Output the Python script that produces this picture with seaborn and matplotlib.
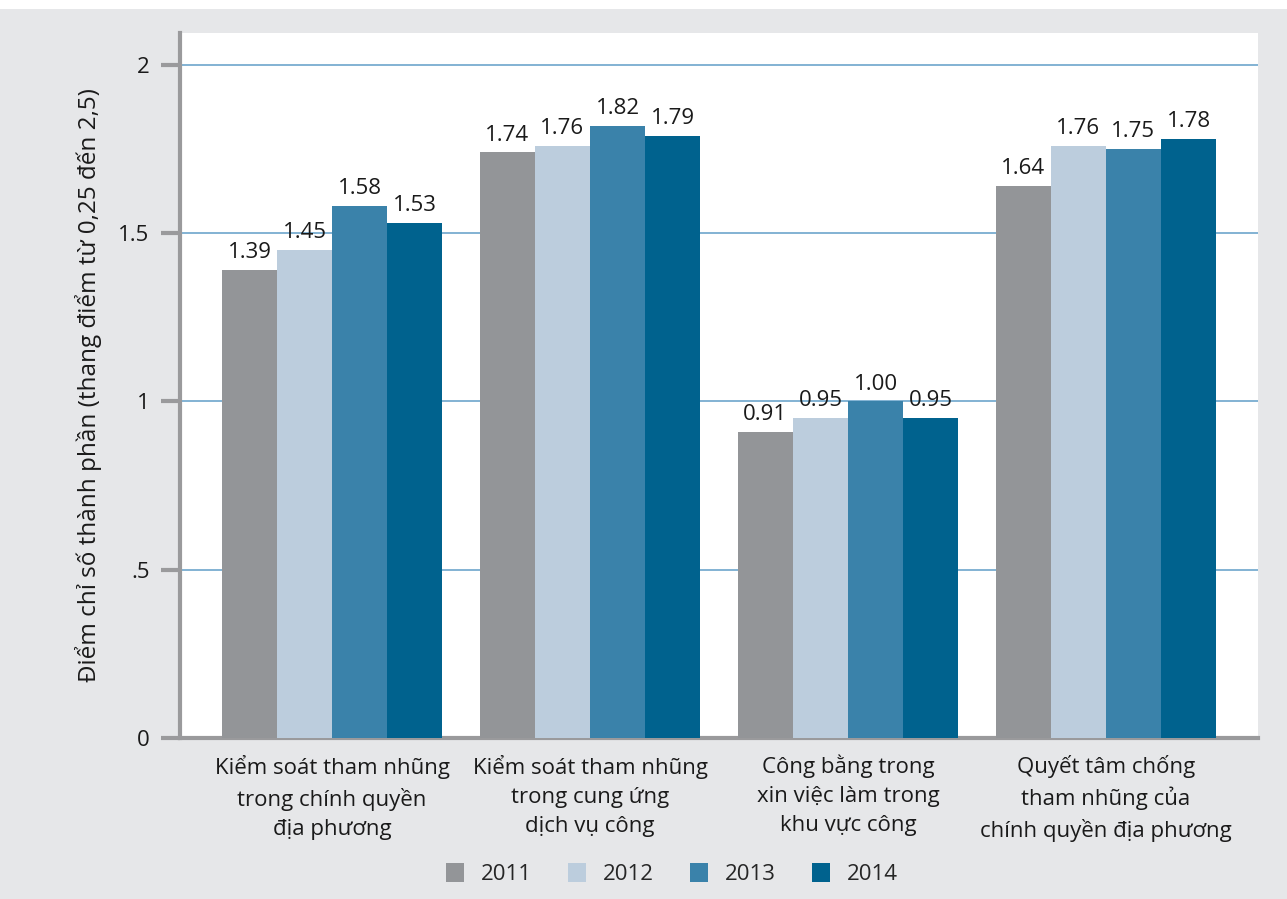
import matplotlib
matplotlib.use("Agg")
import matplotlib.pyplot as plt
import seaborn as sns
import pandas as pd
from matplotlib.patches import Patch

categories = [
    "Kiểm soát tham nhũng\ntrong chính quyền\nđịa phương",
    "Kiểm soát tham nhũng\ntrong cung ứng\ndịch vụ công",
    "Công bằng trong\nxin việc làm trong\nkhu vực công",
    "Quyết tâm chống\ntham nhũng của\nchính quyền địa phương",
]
years = ["2011", "2012", "2013", "2014"]
v2011 = [1.39, 1.74, 0.91, 1.64]
v2012 = [1.45, 1.76, 0.95, 1.76]
v2013 = [1.58, 1.82, 1.00, 1.75]
v2014 = [1.53, 1.79, 0.95, 1.78]
colors = ["#939598", "#bccddd", "#3a82aa", "#00628e"]
yticks = [0, 0.5, 1, 1.5, 2]
ytick_labels = ["0", ".5", "1", "1.5", "2"]

rows = []
for y, vals in zip(years, [v2011, v2012, v2013, v2014]):
    for c, v in zip(categories, vals):
        rows.append({"cat": c, "year": y, "val": v})
df = pd.DataFrame(rows)

sns.set_style("white")
plt.rcParams["font.family"] = ["Open Sans", "DejaVu Sans"]

bg = "#e6e7e9"
fig = plt.figure(figsize=(12.87, 8.99), dpi=100)
fig.patch.set_facecolor(bg)
ax = fig.add_axes([180 / 1287, 1 - 738 / 899, (1258 - 180) / 1287, (738 - 33) / 899])
ax.set_facecolor("white")

sns.barplot(data=df, x="cat", y="val", hue="year", palette=colors,
            width=0.855, gap=0, saturation=1, ax=ax, legend=False, zorder=3,
            linewidth=0, edgecolor="none")

for cont in ax.containers:
    ax.bar_label(cont, labels=[f"{b.get_height():.2f}" for b in cont],
                 padding=5, fontsize=16, color="#1a1a1a")

ax.set_xlim(-0.59, 3.59)
ax.set_ylim(0, 2.095)
ax.set_yticks(yticks)
ax.set_yticklabels(ytick_labels, fontsize=16, color="#1a1a1a")
ax.yaxis.grid(True, color="#78acd0", linewidth=1.3, zorder=0)
ax.set_axisbelow(True)
ax.tick_params(axis="y", length=14, width=3, color="#9a9a9c", pad=8, left=True)
ax.tick_params(axis="x", length=0, pad=12, labelsize=16, labelcolor="#1a1a1a")
for lab in ax.get_xticklabels():
    lab.set_linespacing(1.5)
    lab.set_ha("center")

for s in ["top", "right"]:
    ax.spines[s].set_visible(False)
for s in ["left", "bottom"]:
    ax.spines[s].set_color("#9a9a9c")
    ax.spines[s].set_linewidth(3)

ax.set_xlabel("")
ax.set_ylabel("Điểm chỉ số thành phần (thang điểm từ 0,25 đến 2,5)",
              fontsize=17.5, color="#1a1a1a", labelpad=12)

handles = [Patch(facecolor=c, edgecolor="none", label=y) for c, y in zip(colors, years)]
fig.legend(handles=handles, loc="center", bbox_to_anchor=(0.522, 1 - 874 / 899),
           ncol=4, frameon=False, fontsize=16, handlelength=0.8, handleheight=0.9,
           columnspacing=1.65, handletextpad=0.75)

# white strip at top
fig.patches.append(plt.Rectangle((0, 1 - 9 / 899), 1, 9 / 899, transform=fig.transFigure,
                                 facecolor="white", edgecolor="none", zorder=-1))

fig.savefig("out.png", dpi=100, facecolor=bg)
